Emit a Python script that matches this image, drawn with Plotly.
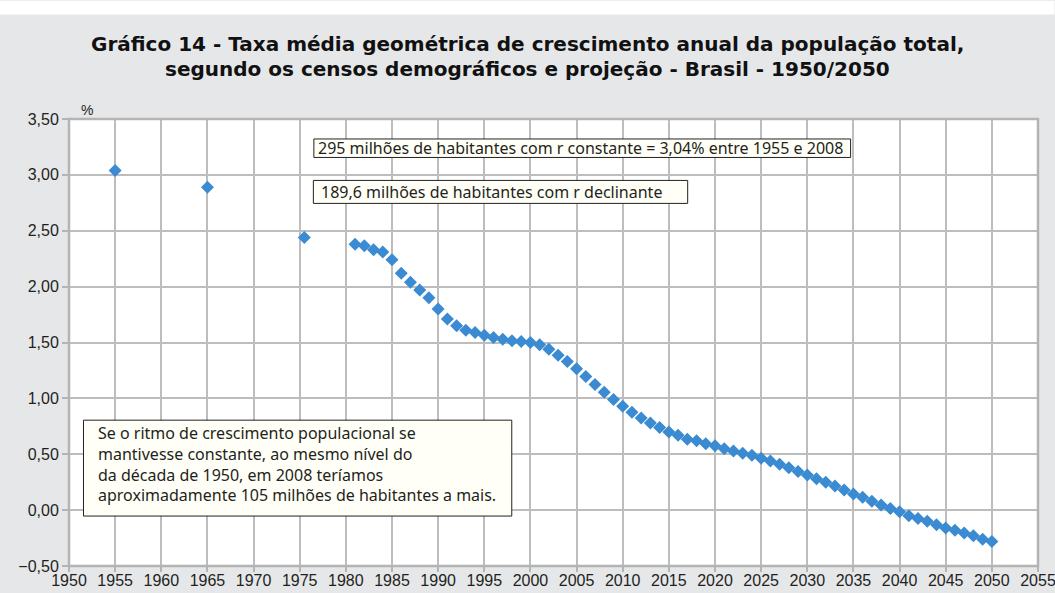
import plotly.graph_objects as go

# ---- data ----
early_years = [1955, 1965, 1975.5]
early_rates = [3.04, 2.89, 2.44]

proj_years = list(range(1981, 2051))
proj_rates = [
    2.38, 2.365, 2.33, 2.31, 2.24, 2.12, 2.04, 1.97, 1.90, 1.80,   # 1981-1990
    1.71, 1.65, 1.61, 1.59, 1.565, 1.545, 1.53, 1.515, 1.51, 1.50, # 1991-2000
    1.48, 1.44, 1.385, 1.33, 1.265, 1.195, 1.125, 1.055, 0.99, 0.93, # 2001-2010
    0.875, 0.825, 0.78, 0.74, 0.70, 0.67, 0.635, 0.62, 0.595, 0.575, # 2011-2020
    0.55, 0.53, 0.51, 0.49, 0.465, 0.44, 0.41, 0.38, 0.345, 0.315,  # 2021-2030
    0.28, 0.25, 0.215, 0.18, 0.145, 0.115, 0.08, 0.045, 0.015, -0.015, # 2031-2040
    -0.05, -0.075, -0.10, -0.13, -0.16, -0.18, -0.205, -0.23, -0.26, -0.28, # 2041-2050
]

years = early_years + proj_years
rates = early_rates + proj_rates

x_ticks = list(range(1950, 2056, 5))
y_ticks = [-0.5, 0, 0.5, 1.0, 1.5, 2.0, 2.5, 3.0, 3.5]

title_lines = [
    "Gráfico 14 - Taxa média geométrica de crescimento anual da população total,",
    "segundo os censos demográficos e projeção - Brasil - 1950/2050",
]
note1 = "295 milhões de habitantes com r constante = 3,04% entre 1955 e 2008"
note2 = "189,6 milhões de habitantes com r declinante"
note3_lines = [
    "Se o ritmo de crescimento populacional se",
    "mantivesse constante, ao mesmo nível do",
    "da década de 1950, em 2008 teríamos",
    "aproximadamente 105 milhões de habitantes a mais.",
]

# ---- layout geometry (pixels) ----
W, H = 1055, 593
L, R, T, B = 69, 1038.5, 118.5, 566
PW, PH = R - L, B - T

def px(x):
    return (x - L) / PW

def py(y):
    return (B - y) / PH

TICKFONT = "Liberation Sans, Arial, sans-serif"
TEXTFONT = "Noto Sans, Liberation Sans, sans-serif"
TITLEFONT = "DejaVu Sans, Liberation Sans, sans-serif"
BG = "#e6e7e9"
INK = "#231f20"

fig = go.Figure()
fig.add_trace(go.Scatter(
    x=years, y=rates, mode="markers",
    marker=dict(symbol="diamond", size=10, color="#3a8bd2", line=dict(width=0)),
    hoverinfo="x+y", showlegend=False,
))

shapes = [
    dict(type="rect", xref="paper", yref="paper", x0=px(0), x1=px(W), y0=py(14), y1=py(0),
         fillcolor="white", line=dict(width=0), layer="below"),
    dict(type="rect", xref="paper", yref="paper", x0=0, x1=1, y0=0, y1=1,
         fillcolor="white", line=dict(width=0), layer="below"),
    dict(type="rect", xref="paper", yref="paper", x0=0, x1=1, y0=0, y1=1,
         line=dict(color="#b4b4b4", width=2.5), layer="above"),
]
annotations = []

# title lines
for line, cy in zip(title_lines, [43.5, 68.5]):
    annotations.append(dict(xref="paper", yref="paper", x=px(W / 2), y=py(cy),
                            xanchor="center", yanchor="middle", showarrow=False,
                            text="<b>" + line + "</b>",
                            font=dict(family=TITLEFONT, size=20, color="#111111")))

boxes = [
    (314, 138.5, 851, 157, note1, 316),
    (313.5, 180, 688, 203, note2, 319),
]
for (x0, y0, x1, y1, txt, tx) in boxes:
    shapes.append(dict(type="rect", xref="paper", yref="paper", x0=px(x0), x1=px(x1),
                       y0=py(y1), y1=py(y0), fillcolor="#fffff7",
                       line=dict(color="#222222", width=1)))
    annotations.append(dict(xref="paper", yref="paper", x=px(tx), y=py((y0 + y1) / 2),
                            xanchor="left", yanchor="middle", text=txt, showarrow=False,
                            font=dict(family=TEXTFONT, size=16, color=INK)))

# big note box
shapes.append(dict(type="rect", xref="paper", yref="paper", x0=px(83.5), x1=px(512),
                   y0=py(516), y1=py(420), fillcolor="#fffff7",
                   line=dict(color="#222222", width=1)))
annotations.append(dict(xref="paper", yref="paper", x=px(96.5), y=py(420), xanchor="left",
                        yanchor="top", align="left", text="<br>".join(note3_lines),
                        showarrow=False,
                        font=dict(family=TEXTFONT, size=16, color=INK)))

# % label
annotations.append(dict(xref="paper", yref="paper", x=px(87), y=py(109), xanchor="center",
                        yanchor="middle", text="%", showarrow=False,
                        font=dict(family=TICKFONT, size=14, color=INK)))

fig.update_layout(
    width=W, height=H,
    margin=dict(l=L, r=W - R, t=T, b=H - B, pad=0, autoexpand=False),
    paper_bgcolor=BG, plot_bgcolor="white",
    separators=",.",
    shapes=shapes, annotations=annotations,
    xaxis=dict(range=[1950, 2055], tickvals=x_ticks, ticktext=[str(v) for v in x_ticks],
               showgrid=True, gridcolor="#bdbdbd", gridwidth=1.5, zeroline=False,
               ticks="outside", ticklen=5, tickcolor="#b4b4b4", tickwidth=1.5,
               ticklabelstandoff=-5, ticklabeloverflow="allow",
               tickfont=dict(family=TICKFONT, size=16, color=INK), showline=False,
               automargin=False, fixedrange=True),
    yaxis=dict(range=[-0.5, 3.5], tickvals=y_ticks, tickformat=".2f",
               showgrid=True, gridcolor="#bdbdbd", gridwidth=1.5, zeroline=False,
               ticks="outside", ticklen=6, tickcolor="#b4b4b4", tickwidth=1.5,
               ticklabeloverflow="allow",
               tickfont=dict(family=TICKFONT, size=16, color=INK), showline=False,
               automargin=False, fixedrange=True),
)

fig.write_html("out.html", config=dict(displayModeBar=False),
               post_script="document.body.style.margin='0';document.body.style.padding='0';")
